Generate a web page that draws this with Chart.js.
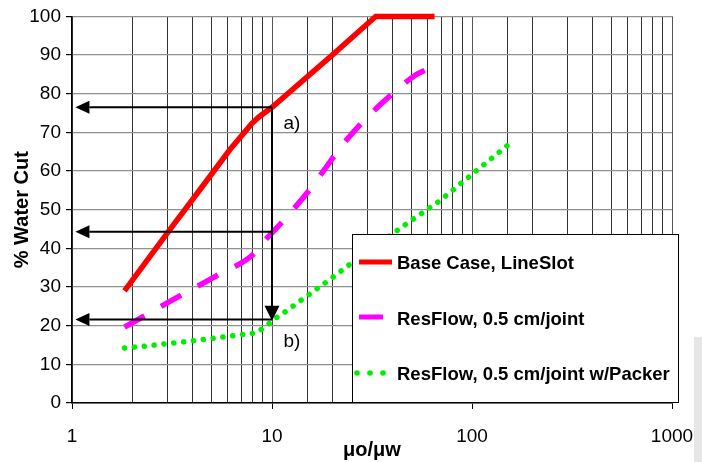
<!DOCTYPE html>
<html>
<head>
<meta charset="utf-8">
<script src="https://cdn.jsdelivr.net/npm/chart.js@4"></script>
<style>
    html, body { margin: 0; padding: 0; background: #fff; }
    #wrap { position: relative; width: 712px; height: 462px; }
    #shade { position: absolute; left: 694px; top: 337px; width: 8px; height: 125px; background: #e6e6e6; }
    #chart { position: absolute; left: 0; top: 0; }
</style>
</head>
<body>
<div id="wrap">
    <div id="shade"></div>
    <canvas id="chart" width="712" height="462"></canvas>
</div>
<script>
// series names
const seriesNames = ['Base Case, LineSlot', 'ResFlow, 0.5 cm/joint', 'ResFlow, 0.5 cm/joint w/Packer'];

// viscosity ratio (x) and water cut (y)
const baseX = [1.83, 3, 4.35, 6.15, 7.9, 8.6, 10, 20, 33, 65];
const baseY = [29, 44, 55.1, 65.5, 72.2, 74, 76.5, 90, 100, 100];

const resX = [1.83, 3.46, 5.27, 8.04, 9.3, 11.1, 15.1, 24, 35.7, 52.5, 58];
const resY = [19.6, 27.7, 32.9, 38.4, 42.3, 46.5, 54.6, 68.5, 77.7, 84.9, 86];

const packerX = [1.83, 2.4, 3.6, 5.4, 7.1, 8.3, 9.3, 10.2, 11.5, 20, 25, 49, 69, 95, 162];
const packerY = [14.2, 14.8, 15.8, 16.9, 17.7, 18.1, 19.8, 21.6, 23.4, 32.4, 36.2, 47, 52.3, 58.2, 68];

// axis ticks
const xTickLabels = [1, 10, 100, 1000];
const yMin = 0, yMax = 100, yStep = 10;

// reading arrows (a) and (b)
const arrowStartX = [10, 10, 10];
const arrowEndX = [1.04, 1.04, 1.04];
const arrowY = [76.5, 44.3, 21.6];
const dropX = 10, dropFrom = 76.5, dropTo = 21.3;
const noteText = ['a)', 'b)'];
const noteX = [11.4, 11.4];
const noteY = [72.1, 15.8];

const colors = ['#ff0000', '#ff00ff', '#00ee00'];
const fontFamily = '"Liberation Sans", Arial, sans-serif';

function toPoints(xs, ys) {
    return xs.map((x, i) => ({ x: x, y: ys[i] }));
}

// arrows, labels and the boxed legend on top of the plot
const overlayPlugin = {
    id: 'overlay',
    afterDatasetsDraw(chart) {
        const ctx = chart.ctx;
        const xs = chart.scales.x, ys = chart.scales.y;
        const head = 14, half = 6.5;

        ctx.save();
        ctx.strokeStyle = '#000';
        ctx.fillStyle = '#000';
        ctx.lineWidth = 2;

        // horizontal arrows pointing left
        arrowY.forEach((v, i) => {
            const y = ys.getPixelForValue(v);
            const x1 = xs.getPixelForValue(arrowStartX[i]);
            const x2 = xs.getPixelForValue(arrowEndX[i]);
            ctx.beginPath();
            ctx.moveTo(x1, y);
            ctx.lineTo(x2 + head, y);
            ctx.stroke();
            ctx.beginPath();
            ctx.moveTo(x2, y);
            ctx.lineTo(x2 + head, y - half);
            ctx.lineTo(x2 + head, y + half);
            ctx.closePath();
            ctx.fill();
        });

        // vertical drop from a) to b)
        const dx = xs.getPixelForValue(dropX);
        const yTop = ys.getPixelForValue(dropFrom);
        const yTip = ys.getPixelForValue(dropTo);
        ctx.beginPath();
        ctx.moveTo(dx, yTop);
        ctx.lineTo(dx, yTip - head);
        ctx.stroke();
        ctx.beginPath();
        ctx.moveTo(dx, yTip);
        ctx.lineTo(dx - 7.5, yTip - 15);
        ctx.lineTo(dx + 7.5, yTip - 15);
        ctx.closePath();
        ctx.fill();

        // notes
        ctx.font = '19px ' + fontFamily;
        ctx.textAlign = 'left';
        ctx.textBaseline = 'middle';
        noteText.forEach((t, i) => {
            ctx.fillText(t, xs.getPixelForValue(noteX[i]), ys.getPixelForValue(noteY[i]));
        });

        // legend box
        const bx = 352, by = 234, bw = 326, bh = 168;
        ctx.fillStyle = '#fff';
        ctx.fillRect(bx, by, bw, bh);
        ctx.strokeStyle = '#000';
        ctx.lineWidth = 1;
        ctx.strokeRect(bx + 0.5, by + 0.5, bw, bh);

        const rows = [264, 320, 375];
        ctx.font = 'bold 18.5px ' + fontFamily;
        seriesNames.forEach((name, i) => {
            const ry = rows[i];
            ctx.strokeStyle = colors[i];
            ctx.fillStyle = colors[i];
            if (i === 0) {
                ctx.lineWidth = 5;
                ctx.beginPath();
                ctx.moveTo(359, ry - 2);
                ctx.lineTo(392, ry - 2);
                ctx.stroke();
            } else if (i === 1) {
                ctx.lineWidth = 5;
                ctx.beginPath();
                ctx.moveTo(359, ry - 3);
                ctx.lineTo(383, ry - 3);
                ctx.stroke();
            } else {
                [357, 370, 383].forEach(px => {
                    ctx.beginPath();
                    ctx.arc(px, ry - 2, 2.8, 0, Math.PI * 2);
                    ctx.fill();
                });
            }
            ctx.fillStyle = '#000';
            ctx.fillText(name, 397, ry);
        });
        ctx.restore();
    }
};

const chartCtx = document.getElementById('chart').getContext('2d');

new Chart(chartCtx, {
    type: 'line',
    data: {
        datasets: [
            {
                label: seriesNames[0],
                data: toPoints(baseX, baseY),
                borderColor: colors[0],
                borderWidth: 5.5,
                pointRadius: 0,
                fill: false,
                clip: false
            },
            {
                label: seriesNames[1],
                data: toPoints(resX, resY),
                borderColor: colors[1],
                borderWidth: 5.5,
                borderDash: [23, 19],
                cubicInterpolationMode: 'monotone',
                pointRadius: 0,
                fill: false
            },
            {
                label: seriesNames[2],
                data: toPoints(packerX, packerY),
                borderColor: colors[2],
                borderWidth: 5.5,
                borderDash: [0.1, 9.8],
                borderCapStyle: 'round',
                pointRadius: 0,
                fill: false
            }
        ]
    },
    options: {
        responsive: false,
        animation: false,
        layout: {
            padding: { top: 13, right: 40, left: 0, bottom: 0 }
        },
        plugins: {
            legend: { display: false },
            tooltip: { enabled: false }
        },
        scales: {
            x: {
                type: 'logarithmic',
                min: 1,
                max: 1000,
                afterFit: (scale) => { scale.height = 59; },
                ticks: {
                    autoSkip: false,
                    maxRotation: 0,
                    padding: 16,
                    color: '#000',
                    font: { family: fontFamily, size: 19 },
                    callback: (value) => xTickLabels.includes(value) ? String(value) : ''
                },
                grid: {
                    color: (c) => xTickLabels.includes(c.tick && c.tick.value) ? '#555' : '#333',
                    lineWidth: 1,
                    tickLength: 6,
                    tickColor: (c) => xTickLabels.includes(c.tick && c.tick.value) ? '#000' : 'rgba(0,0,0,0)'
                },
                border: { color: '#000', width: 1.5 },
                title: {
                    display: true,
                    text: 'μo/μw',
                    color: '#000',
                    padding: { top: 0, bottom: 0 },
                    font: { family: fontFamily, size: 20, weight: 'bold' }
                }
            },
            y: {
                min: yMin,
                max: yMax,
                afterFit: (scale) => { scale.width = 72; },
                ticks: {
                    stepSize: yStep,
                    padding: 5,
                    color: '#000',
                    font: { family: fontFamily, size: 19 }
                },
                grid: {
                    color: '#909090',
                    lineWidth: 1.2,
                    tickLength: 6,
                    tickColor: '#000'
                },
                border: { color: '#000', width: 1.5 },
                title: {
                    display: true,
                    text: '% Water Cut',
                    color: '#000',
                    padding: { top: 10, bottom: 0 },
                    font: { family: fontFamily, size: 20, weight: 'bold' }
                }
            }
        }
    },
    plugins: [overlayPlugin]
});
</script>
</body>
</html>
